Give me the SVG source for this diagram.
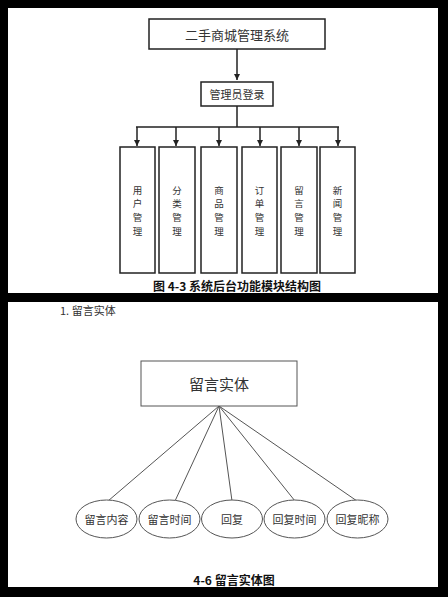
<svg xmlns="http://www.w3.org/2000/svg" width="448" height="597" viewBox="0 0 448 597">
<defs>
<style>
.box{fill:#fff;stroke:#222;stroke-width:1.5}
.thin{fill:#fff;stroke:#555;stroke-width:1}
.t{font-family:"Noto Sans CJK SC","Liberation Sans",sans-serif;fill:#333;text-anchor:middle;dominant-baseline:central}
.cap{font-family:"Noto Sans CJK SC","Liberation Sans",sans-serif;fill:#111;text-anchor:middle;dominant-baseline:central;font-weight:bold}
.ln{stroke:#222;stroke-width:1.5;fill:none}
.ln2{stroke:#555;stroke-width:1;fill:none}
</style>
<marker id="ah" viewBox="0 0 10 10" refX="10" refY="5" markerWidth="4" markerHeight="4" orient="auto"><path d="M0,0L10,5L0,10z" fill="#222"/></marker>
</defs>
<rect x="0" y="0" width="448" height="597" fill="#000"/>
<rect x="8" y="8" width="430" height="285" fill="#fff"/>
<rect x="8" y="302" width="430" height="285" fill="#fff"/>

<g id="connectors">
<path class="ln" d="M237,49V80" marker-end="url(#ah)"/>
<path class="ln" d="M237,106V127M136,127H339"/>
<path class="ln" d="M137,127V146" marker-end="url(#ah)"/>
<path class="ln" d="M176,127V146" marker-end="url(#ah)"/>
<path class="ln" d="M219,127V146" marker-end="url(#ah)"/>
<path class="ln" d="M260,127V146" marker-end="url(#ah)"/>
<path class="ln" d="M299,127V146" marker-end="url(#ah)"/>
<path class="ln" d="M338,127V146" marker-end="url(#ah)"/>
<path class="ln2" d="M219,406L108,501M219,406L175,501M219,406L232,501M219,406L295,501M219,406L357,501"/>
</g>

<g id="root"><rect class="box" x="149" y="19" width="176" height="30"/><text class="t" x="237" y="34" font-size="13">二手商城管理系统</text></g>
<g id="login"><rect class="box" x="201" y="82" width="72" height="24"/><text class="t" x="237" y="94" font-size="11">管理员登录</text></g>

<g id="m1"><rect class="box" x="120" y="147" width="35" height="126"/><text class="t" font-size="9.5"><tspan x="137.5" y="189.5">用</tspan><tspan x="137.5" y="203.4">户</tspan><tspan x="137.5" y="217.3">管</tspan><tspan x="137.5" y="231.2">理</tspan></text></g>
<g id="m2"><rect class="box" x="159" y="147" width="36" height="126"/><text class="t" font-size="9.5"><tspan x="177" y="189.5">分</tspan><tspan x="177" y="203.4">类</tspan><tspan x="177" y="217.3">管</tspan><tspan x="177" y="231.2">理</tspan></text></g>
<g id="m3"><rect class="box" x="201" y="147" width="36" height="126"/><text class="t" font-size="9.5"><tspan x="219" y="189.5">商</tspan><tspan x="219" y="203.4">品</tspan><tspan x="219" y="217.3">管</tspan><tspan x="219" y="231.2">理</tspan></text></g>
<g id="m4"><rect class="box" x="242" y="147" width="35" height="126"/><text class="t" font-size="9.5"><tspan x="259.5" y="189.5">订</tspan><tspan x="259.5" y="203.4">单</tspan><tspan x="259.5" y="217.3">管</tspan><tspan x="259.5" y="231.2">理</tspan></text></g>
<g id="m5"><rect class="box" x="281" y="147" width="36" height="126"/><text class="t" font-size="9.5"><tspan x="299" y="189.5">留</tspan><tspan x="299" y="203.4">言</tspan><tspan x="299" y="217.3">管</tspan><tspan x="299" y="231.2">理</tspan></text></g>
<g id="m6"><rect class="box" x="320" y="147" width="35" height="126"/><text class="t" font-size="9.5"><tspan x="337.5" y="189.5">新</tspan><tspan x="337.5" y="203.4">闻</tspan><tspan x="337.5" y="217.3">管</tspan><tspan x="337.5" y="231.2">理</tspan></text></g>

<text class="cap" x="237" y="285" font-size="12">图 4-3 系统后台功能模块结构图</text>

<text class="t" x="60" y="310" font-size="11" style="text-anchor:start">1. 留言实体</text>

<g id="entity"><rect class="thin" x="141" y="361" width="156" height="45"/><text class="t" x="219" y="383" font-size="15">留言实体</text></g>
<g id="a1"><ellipse class="thin" cx="106.5" cy="519" rx="30.5" ry="19"/><text class="t" x="106.5" y="519" font-size="11">留言内容</text></g>
<g id="a2"><ellipse class="thin" cx="169.5" cy="519" rx="30.5" ry="19"/><text class="t" x="169.5" y="519" font-size="11">留言时间</text></g>
<g id="a3"><ellipse class="thin" cx="232" cy="519" rx="30.5" ry="19"/><text class="t" x="232" y="519" font-size="11">回复</text></g>
<g id="a4"><ellipse class="thin" cx="294.5" cy="519" rx="30.5" ry="19"/><text class="t" x="294.5" y="519" font-size="11">回复时间</text></g>
<g id="a5"><ellipse class="thin" cx="357.5" cy="519" rx="30.5" ry="19"/><text class="t" x="357.5" y="519" font-size="11">回复昵称</text></g>

<text class="cap" x="234" y="579" font-size="12">4-6 留言实体图</text>
</svg>
